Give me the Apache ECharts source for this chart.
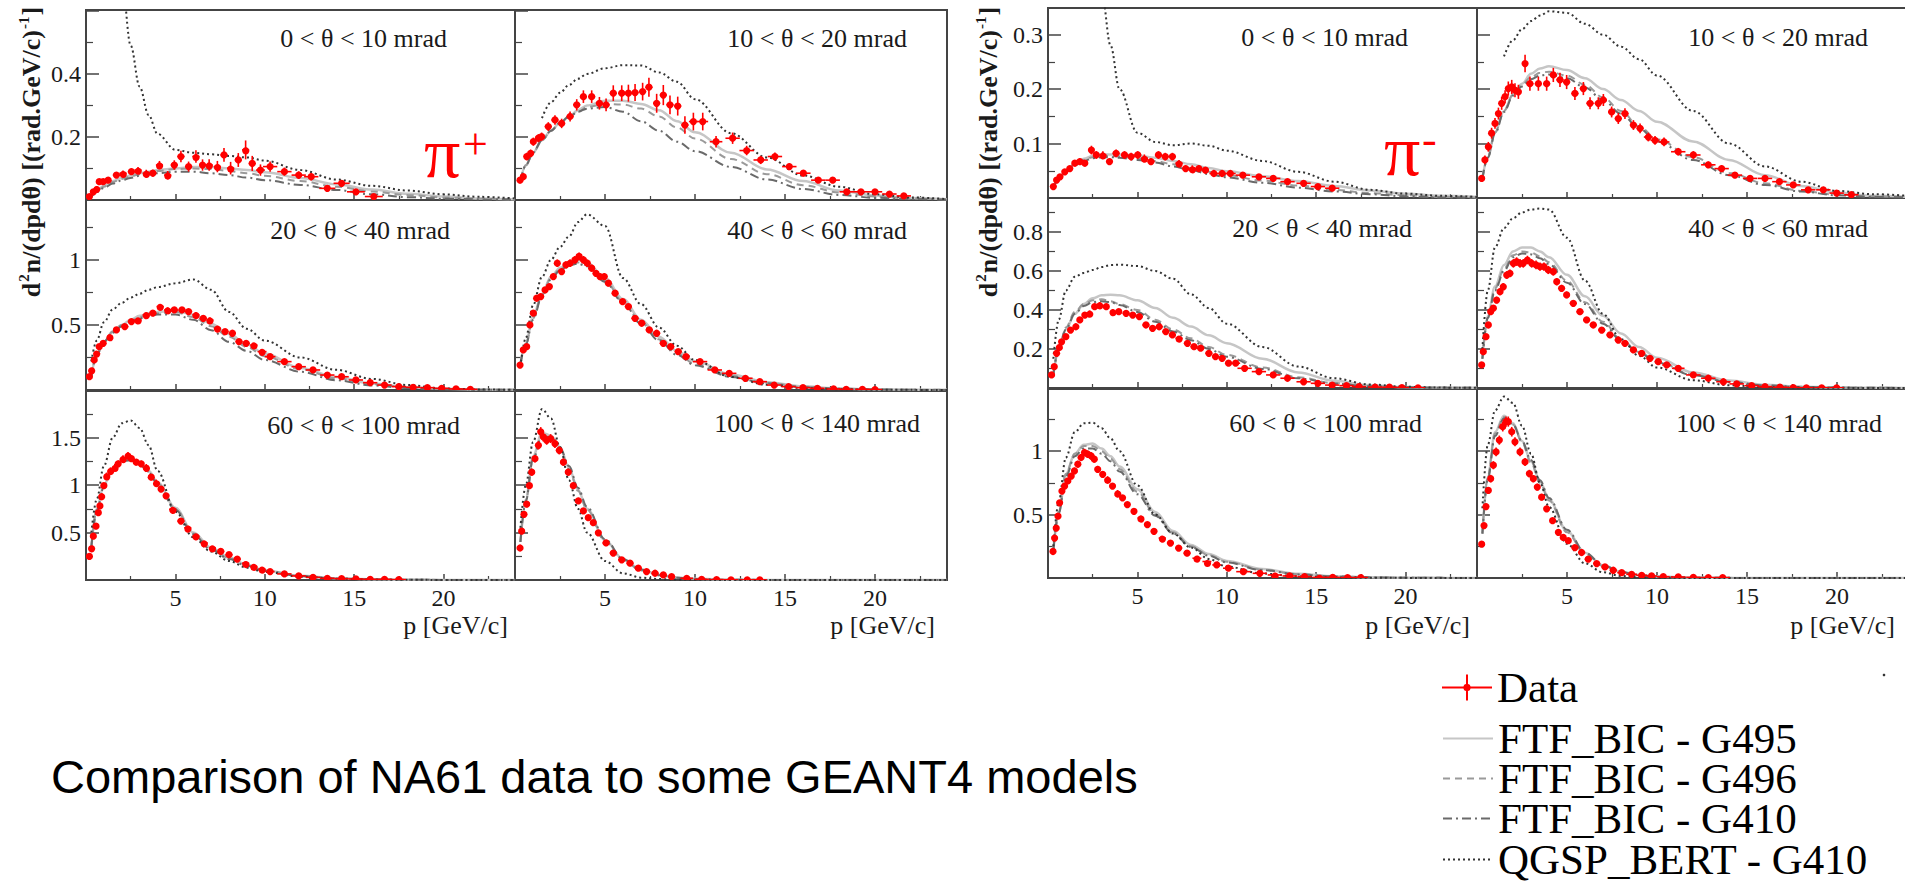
<!DOCTYPE html>
<html><head><meta charset="utf-8">
<script src="https://cdn.jsdelivr.net/npm/echarts@6/dist/echarts.min.js"></script>
<style>html,body{margin:0;padding:0;background:#fff;}#c{width:1905px;height:883px;}</style>
</head><body><div id="c"></div>
<script>
// ---------- DATA ----------
// momentum grid (GeV/c) used by the model curves
const modelP = [0.3,0.6,1,1.5,2,2.5,3,3.5,4,5,6,7,8,9,10,12,14,16,18,20,22,24];

const panelTitles = ['0 < θ < 10 mrad','10 < θ < 20 mrad','20 < θ < 40 mrad','40 < θ < 60 mrad','60 < θ < 100 mrad','100 < θ < 140 mrad',
                     '0 < θ < 10 mrad','10 < θ < 20 mrad','20 < θ < 40 mrad','40 < θ < 60 mrad','60 < θ < 100 mrad','100 < θ < 140 mrad'];
const modelNames = ['FTF_BIC - G495','FTF_BIC - G496','FTF_BIC - G410','QGSP_BERT - G410'];

// NA61 data points: [p, value, p half-width, value error]
// pi+
const dataPp1 = [[0.19,0.011,0.1,0.006],[0.41,0.026,0.1,0.007],[0.59,0.037,0.1,0.007],[0.74,0.058,0.1,0.008],[0.96,0.058,0.1,0.008],[1.24,0.063,0.15,0.008],[1.7,0.079,0.2,0.009],[2.07,0.085,0.2,0.009],[2.54,0.09,0.2,0.01],[2.91,0.095,0.2,0.01],[3.37,0.085,0.2,0.011],[3.74,0.085,0.2,0.011],[4.11,0.111,0.2,0.013],[4.57,0.079,0.2,0.013],[4.94,0.111,0.2,0.015],[5.31,0.138,0.2,0.018],[5.74,0.106,0.2,0.016],[6.15,0.138,0.2,0.02],[6.52,0.111,0.2,0.018],[6.89,0.111,0.2,0.018],[7.35,0.106,0.2,0.018],[7.72,0.143,0.2,0.022],[8.09,0.101,0.2,0.02],[8.52,0.127,0.2,0.022],[8.93,0.159,0.2,0.03],[9.3,0.116,0.2,0.024],[9.76,0.095,0.25,0.018],[10.3,0.106,0.4,0.016],[11.1,0.09,0.4,0.013],[11.9,0.079,0.4,0.012],[12.6,0.074,0.4,0.012],[13.5,0.037,0.45,0.01],[14.3,0.053,0.45,0.01],[15.1,0.026,0.5,0.008],[16.1,0.011,0.5,0.006]];
const dataPp2 = [[0.28,0.063,0.1,0.01],[0.46,0.074,0.1,0.01],[0.65,0.138,0.1,0.012],[0.87,0.148,0.1,0.012],[1.02,0.185,0.1,0.013],[1.3,0.196,0.12,0.013],[1.48,0.201,0.12,0.013],[1.85,0.233,0.2,0.014],[2.22,0.254,0.2,0.015],[2.59,0.243,0.2,0.015],[3.06,0.265,0.2,0.016],[3.43,0.302,0.2,0.018],[3.8,0.328,0.2,0.02],[4.26,0.328,0.2,0.02],[4.69,0.307,0.2,0.02],[5.06,0.302,0.2,0.02],[5.46,0.339,0.2,0.025],[5.93,0.339,0.2,0.025],[6.3,0.339,0.2,0.027],[6.67,0.341,0.2,0.027],[7.09,0.344,0.2,0.028],[7.44,0.358,0.2,0.03],[7.87,0.307,0.2,0.03],[8.24,0.333,0.2,0.032],[8.61,0.302,0.2,0.03],[9.04,0.298,0.2,0.03],[9.44,0.238,0.2,0.028],[9.91,0.249,0.25,0.028],[10.43,0.249,0.3,0.028],[11.17,0.185,0.35,0.018],[12.09,0.196,0.4,0.018],[12.87,0.157,0.4,0.015],[13.65,0.127,0.4,0.013],[14.44,0.138,0.4,0.013],[15.24,0.106,0.4,0.011],[16.02,0.085,0.4,0.01],[16.85,0.063,0.4,0.009],[17.65,0.063,0.4,0.009],[18.43,0.026,0.4,0.007],[19.22,0.026,0.4,0.007],[20.0,0.026,0.4,0.007],[20.8,0.019,0.4,0.006],[21.6,0.013,0.4,0.005]];
const dataPp3 = [[0.19,0.102,0.1,0.01],[0.31,0.154,0.06,0.012],[0.46,0.231,0.07,0.012],[0.59,0.282,0.07,0.012],[0.74,0.333,0.08,0.013],[0.96,0.359,0.1,0.013],[1.33,0.41,0.15,0.014],[1.7,0.462,0.18,0.015],[2.17,0.487,0.2,0.015],[2.54,0.526,0.2,0.016],[2.91,0.538,0.2,0.016],[3.37,0.577,0.2,0.017],[3.74,0.59,0.2,0.017],[4.15,0.641,0.2,0.02],[4.57,0.615,0.2,0.02],[4.94,0.615,0.2,0.02],[5.37,0.615,0.2,0.02],[5.74,0.603,0.2,0.02],[6.15,0.577,0.2,0.02],[6.56,0.551,0.2,0.02],[6.93,0.538,0.2,0.02],[7.35,0.474,0.2,0.018],[7.78,0.449,0.2,0.018],[8.19,0.436,0.2,0.018],[8.56,0.372,0.2,0.016],[8.96,0.359,0.2,0.016],[9.39,0.346,0.2,0.016],[9.85,0.295,0.25,0.015],[10.3,0.256,0.3,0.014],[11.1,0.218,0.4,0.012],[11.9,0.179,0.4,0.011],[12.7,0.154,0.4,0.01],[13.5,0.115,0.4,0.009],[14.3,0.102,0.4,0.008],[15.1,0.077,0.4,0.007],[15.9,0.056,0.4,0.006],[16.7,0.038,0.4,0.005],[17.5,0.026,0.4,0.004],[18.3,0.021,0.4,0.004],[19.1,0.018,0.4,0.004],[19.9,0.013,0.4,0.003],[20.7,0.008,0.4,0.003],[21.5,0.005,0.4,0.003]];
const dataPp4 = [[0.28,0.192,0.08,0.015],[0.46,0.308,0.08,0.016],[0.65,0.333,0.08,0.016],[0.83,0.5,0.08,0.02],[1.02,0.59,0.09,0.02],[1.2,0.705,0.1,0.022],[1.43,0.718,0.1,0.022],[1.67,0.769,0.1,0.022],[1.91,0.795,0.1,0.024],[2.13,0.872,0.1,0.025],[2.35,0.974,0.1,0.028],[2.59,0.91,0.1,0.026],[2.83,0.962,0.1,0.028],[3.06,0.974,0.1,0.028],[3.33,1.0,0.12,0.03],[3.56,1.026,0.12,0.03],[3.8,1.0,0.12,0.03],[4.02,0.974,0.12,0.028],[4.26,0.936,0.12,0.028],[4.5,0.897,0.12,0.026],[4.72,0.872,0.12,0.026],[4.96,0.872,0.12,0.026],[5.19,0.821,0.15,0.025],[5.56,0.744,0.18,0.024],[5.98,0.679,0.2,0.022],[6.3,0.641,0.2,0.02],[6.67,0.551,0.2,0.02],[7.04,0.513,0.2,0.018],[7.46,0.462,0.2,0.018],[7.87,0.436,0.2,0.017],[8.24,0.359,0.2,0.015],[8.65,0.333,0.2,0.015],[9.07,0.295,0.2,0.014],[9.5,0.256,0.2,0.013],[10.28,0.218,0.4,0.012],[11.1,0.154,0.4,0.01],[11.9,0.128,0.4,0.009],[12.8,0.09,0.4,0.008],[13.6,0.064,0.4,0.007],[14.4,0.038,0.4,0.006],[15.2,0.026,0.4,0.005],[16.0,0.018,0.4,0.004],[16.8,0.013,0.4,0.004],[17.7,0.008,0.4,0.003],[18.4,0.005,0.4,0.003],[19.3,0.005,0.4,0.003],[20.0,0.003,0.4,0.003]];
const dataPp5 = [[0.19,0.248,0.05,0.02],[0.31,0.337,0.05,0.02],[0.41,0.461,0.05,0.022],[0.56,0.567,0.06,0.024],[0.69,0.709,0.06,0.025],[0.78,0.78,0.06,0.026],[0.87,0.886,0.06,0.028],[1.0,0.993,0.07,0.03],[1.15,1.099,0.08,0.032],[1.37,1.152,0.1,0.034],[1.61,1.188,0.1,0.034],[1.8,1.223,0.1,0.035],[2.07,1.277,0.12,0.036],[2.35,1.312,0.12,0.036],[2.54,1.277,0.12,0.035],[2.81,1.241,0.12,0.034],[3.09,1.223,0.12,0.034],[3.37,1.188,0.12,0.033],[3.65,1.082,0.12,0.032],[3.93,1.028,0.12,0.03],[4.2,0.957,0.12,0.028],[4.48,0.886,0.15,0.026],[4.85,0.745,0.2,0.024],[5.31,0.62,0.2,0.022],[5.69,0.55,0.2,0.02],[6.15,0.461,0.2,0.018],[6.61,0.39,0.2,0.016],[7.07,0.337,0.2,0.015],[7.54,0.301,0.2,0.014],[8.0,0.266,0.2,0.013],[8.46,0.22,0.2,0.012],[8.93,0.177,0.2,0.011],[9.39,0.142,0.2,0.01],[9.85,0.113,0.2,0.009],[10.3,0.089,0.25,0.008],[11.1,0.064,0.4,0.007],[11.9,0.043,0.4,0.006],[12.7,0.028,0.4,0.005],[13.5,0.018,0.4,0.004],[14.3,0.014,0.4,0.004],[15.1,0.011,0.4,0.003],[15.9,0.007,0.4,0.003],[16.7,0.007,0.4,0.003],[17.5,0.004,0.4,0.003]];
const dataPp6 = [[0.28,0.337,0.05,0.03],[0.37,0.514,0.05,0.03],[0.5,0.691,0.05,0.03],[0.65,0.798,0.06,0.032],[0.8,0.993,0.06,0.035],[0.93,1.135,0.06,0.038],[1.11,1.277,0.07,0.04],[1.3,1.418,0.08,0.045],[1.43,1.56,0.08,0.05],[1.57,1.507,0.08,0.048],[1.76,1.471,0.1,0.047],[1.98,1.489,0.1,0.047],[2.22,1.436,0.1,0.045],[2.46,1.365,0.1,0.043],[2.69,1.241,0.12,0.04],[2.96,1.135,0.12,0.038],[3.24,0.993,0.12,0.035],[3.52,0.833,0.12,0.032],[3.8,0.727,0.12,0.03],[4.07,0.656,0.12,0.028],[4.35,0.603,0.12,0.026],[4.63,0.497,0.15,0.024],[5.06,0.39,0.2,0.022],[5.46,0.284,0.2,0.018],[5.93,0.213,0.2,0.015],[6.39,0.177,0.2,0.013],[6.85,0.124,0.2,0.011],[7.31,0.089,0.2,0.009],[7.78,0.071,0.2,0.008],[8.24,0.053,0.2,0.007],[8.7,0.035,0.2,0.006],[9.54,0.018,0.35,0.005],[10.37,0.007,0.4,0.004],[11.2,0.004,0.4,0.003],[12.0,0.002,0.4,0.003],[12.9,0.001,0.4,0.003],[13.6,0.001,0.4,0.003]];
// pi-
const dataPm1 = [[0.3,0.021,0.1,0.004],[0.48,0.033,0.1,0.005],[0.67,0.039,0.1,0.005],[0.94,0.048,0.12,0.005],[1.22,0.054,0.12,0.005],[1.5,0.064,0.15,0.006],[1.78,0.067,0.15,0.006],[2.06,0.064,0.15,0.006],[2.43,0.088,0.15,0.008],[2.7,0.079,0.15,0.007],[3.07,0.079,0.2,0.007],[3.44,0.067,0.2,0.006],[3.81,0.082,0.2,0.007],[4.28,0.079,0.2,0.007],[4.65,0.076,0.2,0.007],[5.02,0.079,0.2,0.007],[5.39,0.073,0.2,0.007],[5.76,0.067,0.2,0.006],[6.18,0.079,0.2,0.007],[6.56,0.076,0.2,0.007],[6.96,0.076,0.2,0.007],[7.33,0.064,0.2,0.006],[7.7,0.054,0.2,0.006],[8.07,0.054,0.2,0.006],[8.44,0.054,0.2,0.006],[8.81,0.051,0.2,0.006],[9.28,0.045,0.25,0.005],[9.74,0.045,0.25,0.005],[10.2,0.045,0.3,0.005],[10.9,0.042,0.4,0.005],[11.8,0.039,0.4,0.005],[12.6,0.036,0.4,0.004],[13.4,0.03,0.4,0.004],[14.3,0.027,0.4,0.004],[15.1,0.021,0.4,0.004],[15.9,0.018,0.4,0.003]];
const dataPm2 = [[0.26,0.036,0.08,0.006],[0.44,0.07,0.08,0.008],[0.63,0.094,0.08,0.009],[0.81,0.119,0.08,0.01],[1.0,0.137,0.09,0.01],[1.19,0.155,0.09,0.011],[1.37,0.174,0.09,0.012],[1.56,0.186,0.1,0.012],[1.74,0.201,0.1,0.013],[1.93,0.204,0.1,0.013],[2.11,0.198,0.1,0.013],[2.3,0.195,0.1,0.013],[2.67,0.247,0.1,0.016],[2.94,0.21,0.2,0.013],[3.41,0.21,0.2,0.013],[3.87,0.21,0.2,0.013],[4.24,0.226,0.2,0.013],[4.61,0.217,0.2,0.013],[4.98,0.213,0.2,0.013],[5.44,0.192,0.2,0.012],[5.91,0.201,0.2,0.012],[6.28,0.174,0.2,0.011],[6.74,0.174,0.2,0.011],[7.02,0.18,0.2,0.011],[7.48,0.158,0.2,0.01],[7.85,0.146,0.2,0.01],[8.22,0.155,0.2,0.01],[8.69,0.134,0.2,0.009],[9.06,0.128,0.2,0.009],[9.52,0.112,0.25,0.008],[9.89,0.106,0.25,0.008],[10.39,0.103,0.3,0.008],[11.18,0.085,0.4,0.007],[12.02,0.079,0.4,0.007],[12.85,0.061,0.4,0.006],[13.59,0.054,0.4,0.006],[14.33,0.042,0.4,0.005],[15.17,0.036,0.4,0.005],[16.0,0.036,0.4,0.005],[16.8,0.03,0.4,0.004],[17.57,0.024,0.4,0.004],[18.4,0.015,0.4,0.003],[19.24,0.015,0.4,0.003],[19.98,0.009,0.4,0.003],[20.8,0.006,0.4,0.003]];
const dataPm3 = [[0.2,0.067,0.06,0.008],[0.35,0.109,0.06,0.009],[0.48,0.178,0.06,0.01],[0.63,0.212,0.06,0.011],[0.76,0.237,0.06,0.011],[1.0,0.263,0.08,0.012],[1.26,0.297,0.1,0.012],[1.56,0.314,0.12,0.013],[1.78,0.349,0.12,0.013],[2.06,0.374,0.12,0.014],[2.33,0.383,0.12,0.014],[2.61,0.417,0.12,0.015],[2.89,0.426,0.12,0.015],[3.26,0.417,0.15,0.015],[3.63,0.391,0.15,0.014],[3.96,0.391,0.15,0.014],[4.37,0.383,0.2,0.014],[4.74,0.374,0.2,0.014],[5.11,0.366,0.2,0.013],[5.48,0.323,0.2,0.013],[5.85,0.306,0.2,0.012],[6.22,0.314,0.2,0.012],[6.59,0.289,0.2,0.012],[6.96,0.272,0.2,0.011],[7.33,0.255,0.2,0.011],[7.8,0.229,0.2,0.01],[8.17,0.212,0.2,0.01],[8.54,0.204,0.2,0.01],[9.0,0.178,0.2,0.009],[9.37,0.161,0.2,0.009],[9.74,0.152,0.2,0.009],[10.1,0.127,0.2,0.008],[10.5,0.127,0.25,0.008],[11.0,0.101,0.4,0.007],[11.8,0.084,0.4,0.006],[12.6,0.067,0.4,0.006],[13.4,0.05,0.4,0.005],[14.3,0.032,0.4,0.004],[15.1,0.024,0.4,0.004],[15.9,0.015,0.4,0.003],[16.7,0.012,0.4,0.003],[17.4,0.007,0.4,0.003],[18.3,0.005,0.4,0.002],[19.1,0.004,0.4,0.002],[19.8,0.002,0.4,0.002],[20.7,0.001,0.4,0.002]];
const dataPm4 = [[0.26,0.118,0.06,0.012],[0.35,0.186,0.05,0.013],[0.5,0.263,0.06,0.014],[0.63,0.323,0.06,0.015],[0.76,0.391,0.06,0.016],[0.91,0.409,0.07,0.016],[1.09,0.451,0.08,0.017],[1.28,0.494,0.08,0.018],[1.46,0.519,0.08,0.018],[1.65,0.579,0.08,0.02],[1.83,0.588,0.08,0.02],[2.02,0.639,0.08,0.022],[2.2,0.648,0.08,0.022],[2.39,0.639,0.08,0.022],[2.57,0.639,0.08,0.022],[2.8,0.656,0.1,0.022],[3.04,0.639,0.1,0.022],[3.28,0.631,0.1,0.022],[3.5,0.622,0.1,0.021],[3.72,0.622,0.1,0.021],[3.96,0.605,0.1,0.021],[4.24,0.596,0.12,0.02],[4.43,0.545,0.12,0.019],[4.7,0.511,0.12,0.018],[4.98,0.477,0.15,0.017],[5.35,0.434,0.2,0.016],[5.72,0.391,0.2,0.015],[6.09,0.349,0.2,0.014],[6.46,0.323,0.2,0.013],[6.93,0.297,0.2,0.012],[7.39,0.272,0.2,0.012],[7.85,0.246,0.2,0.011],[8.22,0.229,0.2,0.011],[8.69,0.195,0.2,0.01],[9.15,0.178,0.2,0.009],[9.61,0.152,0.2,0.009],[10.07,0.135,0.2,0.008],[10.54,0.118,0.25,0.008],[11.18,0.101,0.35,0.007],[12.02,0.067,0.4,0.006],[12.85,0.05,0.4,0.005],[13.69,0.032,0.4,0.004],[14.43,0.021,0.4,0.004],[15.26,0.012,0.4,0.003],[16.0,0.007,0.4,0.003],[16.83,0.004,0.4,0.003],[17.57,0.002,0.4,0.002],[18.3,0.001,0.4,0.002],[19.15,0.001,0.4,0.002],[19.98,0.001,0.4,0.002]];
const dataPm5 = [[0.28,0.209,0.05,0.015],[0.37,0.315,0.05,0.016],[0.46,0.394,0.05,0.017],[0.56,0.487,0.05,0.018],[0.65,0.593,0.05,0.02],[0.78,0.685,0.06,0.022],[0.93,0.725,0.07,0.023],[1.11,0.765,0.08,0.024],[1.3,0.804,0.08,0.025],[1.48,0.844,0.08,0.026],[1.67,0.897,0.08,0.027],[1.85,0.95,0.08,0.028],[2.04,0.989,0.09,0.03],[2.22,0.976,0.09,0.03],[2.41,0.963,0.09,0.03],[2.59,0.937,0.09,0.028],[2.78,0.857,0.1,0.027],[3.06,0.817,0.12,0.026],[3.33,0.778,0.12,0.025],[3.61,0.725,0.12,0.024],[3.89,0.672,0.12,0.022],[4.17,0.632,0.12,0.021],[4.44,0.579,0.12,0.02],[4.81,0.526,0.15,0.019],[5.19,0.474,0.18,0.018],[5.56,0.421,0.18,0.017],[5.93,0.368,0.18,0.016],[6.39,0.315,0.2,0.015],[6.85,0.275,0.2,0.014],[7.31,0.236,0.2,0.013],[7.78,0.196,0.2,0.012],[8.33,0.156,0.25,0.011],[8.89,0.13,0.25,0.01],[9.44,0.103,0.25,0.009],[10.09,0.077,0.3,0.008],[10.93,0.05,0.4,0.007],[11.85,0.037,0.4,0.006],[12.69,0.024,0.4,0.005],[13.52,0.016,0.4,0.004],[14.35,0.011,0.4,0.004],[15.19,0.005,0.4,0.003],[15.93,0.005,0.4,0.003],[16.76,0.003,0.4,0.003],[17.5,0.003,0.4,0.003]];
const dataPm6 = [[0.26,0.267,0.05,0.02],[0.39,0.413,0.05,0.022],[0.5,0.563,0.05,0.025],[0.63,0.69,0.05,0.027],[0.76,0.783,0.06,0.03],[0.91,0.889,0.06,0.032],[1.06,0.994,0.07,0.034],[1.24,1.087,0.08,0.036],[1.43,1.193,0.08,0.038],[1.61,1.233,0.08,0.04],[1.74,1.233,0.08,0.04],[1.93,1.153,0.08,0.038],[2.11,1.074,0.1,0.036],[2.39,0.994,0.1,0.034],[2.67,0.915,0.1,0.032],[2.91,0.823,0.1,0.03],[3.13,0.783,0.1,0.029],[3.35,0.717,0.12,0.027],[3.59,0.637,0.12,0.026],[3.87,0.545,0.12,0.024],[4.2,0.452,0.15,0.022],[4.52,0.36,0.15,0.02],[4.79,0.32,0.15,0.018],[5.07,0.294,0.15,0.017],[5.44,0.24,0.2,0.015],[5.81,0.201,0.2,0.013],[6.18,0.148,0.2,0.011],[6.65,0.114,0.2,0.01],[7.11,0.087,0.2,0.009],[7.57,0.061,0.2,0.008],[8.04,0.042,0.25,0.007],[8.59,0.029,0.3,0.006],[9.15,0.021,0.3,0.005],[9.7,0.016,0.3,0.004],[10.35,0.01,0.35,0.004],[11.18,0.008,0.4,0.003],[12.02,0.005,0.4,0.003],[12.85,0.003,0.4,0.003],[13.65,0.003,0.4,0.003]];

// Model curves on modelP grid
const g495Pp1 = [0.01,0.03,0.045,0.06,0.07,0.078,0.085,0.09,0.095,0.1,0.105,0.105,0.1,0.095,0.088,0.07,0.05,0.033,0.02,0.011,0.005,0.002];
const g496Pp1 = [0.01,0.028,0.042,0.057,0.067,0.075,0.082,0.087,0.092,0.098,0.1,0.098,0.092,0.085,0.077,0.06,0.042,0.027,0.016,0.008,0.004,0.002];
const g410Pp1 = [0.01,0.025,0.038,0.052,0.062,0.07,0.077,0.082,0.085,0.09,0.09,0.085,0.079,0.071,0.063,0.048,0.032,0.018,0.009,0.004,0.002,0.001];
const qgspPp1 = [2.4,1.9,1.4,1.0,0.7,0.49,0.36,0.27,0.21,0.159,0.15,0.145,0.14,0.135,0.125,0.095,0.065,0.045,0.03,0.018,0.01,0.005];

const g495Pp2 = [0.06,0.11,0.15,0.19,0.22,0.245,0.265,0.285,0.3,0.315,0.315,0.305,0.285,0.25,0.215,0.15,0.097,0.06,0.03,0.014,0.006,0.002];
const g496Pp2 = [0.06,0.11,0.15,0.19,0.22,0.245,0.262,0.28,0.295,0.305,0.303,0.29,0.265,0.23,0.195,0.13,0.082,0.047,0.024,0.011,0.005,0.002];
const g410Pp2 = [0.06,0.11,0.15,0.19,0.22,0.245,0.265,0.28,0.29,0.295,0.28,0.25,0.22,0.185,0.155,0.105,0.065,0.035,0.016,0.007,0.003,0.001];
const qgspPp2 = [null,null,null,0.26,0.31,0.34,0.365,0.385,0.4,0.418,0.428,0.427,0.405,0.375,0.32,0.212,0.135,0.078,0.042,0.018,0.008,0.003];

const g495Pp3 = [0.1,0.27,0.37,0.45,0.5,0.54,0.57,0.59,0.6,0.61,0.58,0.51,0.43,0.35,0.28,0.17,0.1,0.05,0.022,0.009,0.003,0.001];
const g496Pp3 = [0.1,0.27,0.37,0.45,0.5,0.53,0.56,0.58,0.59,0.6,0.56,0.49,0.41,0.33,0.26,0.16,0.09,0.045,0.02,0.008,0.003,0.001];
const g410Pp3 = [0.1,0.27,0.37,0.44,0.49,0.52,0.55,0.57,0.58,0.58,0.54,0.46,0.37,0.3,0.23,0.14,0.075,0.035,0.015,0.006,0.002,0.001];
const qgspPp3 = [0.22,0.38,0.52,0.62,0.67,0.71,0.74,0.77,0.79,0.82,0.85,0.77,0.6,0.47,0.38,0.25,0.155,0.085,0.038,0.012,0.004,0.001];

const g495Pp4 = [0.2,0.36,0.56,0.74,0.87,0.94,0.98,1.0,0.98,0.86,0.7,0.54,0.41,0.3,0.22,0.12,0.06,0.028,0.012,0.005,0.002,0.001];
const g496Pp4 = [0.2,0.35,0.55,0.73,0.86,0.93,0.97,0.98,0.96,0.84,0.68,0.52,0.39,0.28,0.2,0.11,0.055,0.025,0.01,0.004,0.002,0.001];
const g410Pp4 = [0.2,0.35,0.54,0.72,0.85,0.92,0.96,0.97,0.95,0.83,0.67,0.51,0.38,0.27,0.19,0.1,0.05,0.022,0.009,0.004,0.001,0];
const qgspPp4 = [0.18,0.4,0.65,0.87,1.0,1.1,1.18,1.29,1.35,1.26,0.86,0.66,0.48,0.34,0.23,0.1,0.04,0.015,0.006,0.002,0.001,0];

const g495Pp5 = [0.35,0.75,1.0,1.18,1.27,1.28,1.24,1.15,1.03,0.76,0.5,0.34,0.24,0.16,0.1,0.045,0.018,0.008,0.003,0.001,0,0];
const g496Pp5 = [0.35,0.74,0.99,1.17,1.26,1.27,1.23,1.14,1.02,0.75,0.49,0.33,0.23,0.15,0.1,0.043,0.017,0.007,0.003,0.001,0,0];
const g410Pp5 = [0.35,0.73,0.98,1.16,1.25,1.26,1.22,1.13,1.01,0.74,0.48,0.32,0.22,0.15,0.095,0.04,0.016,0.006,0.002,0.001,0,0];
const qgspPp5 = [0.5,0.85,1.2,1.5,1.65,1.68,1.6,1.42,1.15,0.72,0.45,0.3,0.2,0.13,0.085,0.035,0.014,0.005,0.002,0.001,0,0];

const g495Pp6 = [0.4,0.85,1.3,1.55,1.52,1.4,1.18,0.95,0.75,0.42,0.22,0.11,0.055,0.026,0.012,0.003,0.001,0,0,0,0,0];
const g496Pp6 = [0.4,0.84,1.28,1.53,1.5,1.38,1.17,0.94,0.74,0.41,0.21,0.1,0.05,0.024,0.011,0.003,0.001,0,0,0,0,0];
const g410Pp6 = [0.4,0.83,1.27,1.52,1.5,1.39,1.2,0.97,0.77,0.43,0.22,0.11,0.05,0.023,0.01,0.002,0.001,0,0,0,0,0];
const qgspPp6 = [0.55,1.0,1.45,1.8,1.7,1.4,1.05,0.75,0.5,0.2,0.07,0.025,0.01,0.004,0.002,0,0,0,0,0,0,0];

const g495Pm1 = [0.02,0.035,0.05,0.063,0.072,0.077,0.08,0.08,0.08,0.078,0.074,0.068,0.062,0.055,0.049,0.04,0.031,0.022,0.014,0.008,0.004,0.002];
const g496Pm1 = [0.02,0.035,0.05,0.062,0.07,0.075,0.077,0.077,0.076,0.073,0.068,0.062,0.055,0.048,0.042,0.032,0.023,0.015,0.009,0.005,0.002,0.001];
const g410Pm1 = [0.02,0.034,0.048,0.06,0.068,0.073,0.075,0.075,0.074,0.07,0.065,0.058,0.051,0.044,0.038,0.028,0.019,0.012,0.007,0.003,0.001,0.001];
const qgspPm1 = [3,2.4,1.8,1.3,0.9,0.6,0.38,0.28,0.2,0.12,0.103,0.097,0.1,0.096,0.087,0.068,0.048,0.03,0.015,0.008,0.004,0.002];

const g495Pm2 = [0.036,0.075,0.12,0.16,0.19,0.21,0.228,0.238,0.242,0.235,0.22,0.2,0.18,0.16,0.14,0.104,0.07,0.042,0.022,0.01,0.004,0.002];
const g496Pm2 = [0.036,0.075,0.12,0.16,0.19,0.208,0.222,0.23,0.232,0.225,0.208,0.185,0.16,0.132,0.108,0.075,0.046,0.027,0.013,0.006,0.003,0.001];
const g410Pm2 = [0.036,0.074,0.118,0.158,0.188,0.205,0.218,0.225,0.227,0.22,0.203,0.18,0.155,0.128,0.104,0.07,0.042,0.024,0.012,0.005,0.002,0.001];
const qgspPm2 = [null,null,null,0.26,0.29,0.31,0.325,0.335,0.343,0.34,0.32,0.3,0.278,0.255,0.225,0.16,0.1,0.058,0.03,0.013,0.007,0.004];

const g495Pm3 = [0.07,0.2,0.3,0.38,0.43,0.46,0.475,0.478,0.475,0.45,0.41,0.36,0.315,0.27,0.23,0.15,0.08,0.037,0.014,0.005,0.002,0.001];
const g496Pm3 = [0.07,0.2,0.31,0.39,0.43,0.45,0.455,0.445,0.43,0.4,0.35,0.3,0.255,0.21,0.17,0.105,0.055,0.025,0.01,0.004,0.002,0.001];
const g410Pm3 = [0.07,0.2,0.3,0.38,0.42,0.44,0.445,0.44,0.425,0.39,0.34,0.29,0.245,0.2,0.16,0.098,0.05,0.022,0.009,0.004,0.001,0.001];
const qgspPm3 = [0.15,0.35,0.5,0.57,0.59,0.605,0.62,0.63,0.632,0.625,0.6,0.56,0.48,0.41,0.33,0.21,0.11,0.05,0.018,0.006,0.002,0.001];

const g495Pm4 = [0.15,0.37,0.52,0.63,0.7,0.72,0.72,0.7,0.67,0.58,0.47,0.37,0.28,0.21,0.155,0.08,0.038,0.017,0.007,0.003,0.001,0];
const g496Pm4 = [0.15,0.36,0.51,0.61,0.68,0.7,0.695,0.675,0.645,0.55,0.44,0.34,0.25,0.185,0.135,0.068,0.032,0.014,0.006,0.002,0.001,0];
const g410Pm4 = [0.15,0.36,0.5,0.6,0.67,0.69,0.685,0.665,0.635,0.54,0.43,0.33,0.245,0.18,0.13,0.065,0.03,0.013,0.005,0.002,0.001,0];
const qgspPm4 = [0.2,0.5,0.72,0.82,0.87,0.9,0.915,0.92,0.915,0.77,0.55,0.38,0.25,0.165,0.105,0.04,0.014,0.005,0.002,0.001,0,0];

const g495Pm5 = [0.22,0.52,0.82,0.98,1.05,1.06,1.02,0.96,0.88,0.7,0.52,0.37,0.26,0.19,0.135,0.07,0.033,0.014,0.006,0.002,0.001,0];
const g496Pm5 = [0.22,0.52,0.82,0.98,1.04,1.04,1.0,0.94,0.86,0.68,0.5,0.36,0.25,0.18,0.128,0.065,0.03,0.013,0.005,0.002,0.001,0];
const g410Pm5 = [0.22,0.51,0.8,0.96,1.02,1.02,0.98,0.92,0.84,0.66,0.49,0.35,0.245,0.175,0.122,0.062,0.028,0.012,0.005,0.002,0.001,0];
const qgspPm5 = [0.25,0.6,0.95,1.15,1.22,1.225,1.18,1.1,1.0,0.73,0.5,0.35,0.24,0.15,0.09,0.035,0.013,0.005,0.002,0.001,0,0];

const g495Pm6 = [0.35,0.8,1.15,1.28,1.22,1.08,0.92,0.76,0.62,0.37,0.2,0.1,0.05,0.024,0.011,0.003,0.001,0,0,0,0,0];
const g496Pm6 = [0.35,0.8,1.14,1.27,1.21,1.07,0.91,0.75,0.61,0.36,0.19,0.095,0.047,0.022,0.01,0.003,0.001,0,0,0,0,0];
const g410Pm6 = [0.35,0.78,1.12,1.26,1.21,1.08,0.93,0.77,0.63,0.38,0.2,0.1,0.048,0.022,0.01,0.002,0.001,0,0,0,0,0];
const qgspPm6 = [0.55,1.05,1.32,1.43,1.38,1.2,0.98,0.75,0.56,0.27,0.115,0.045,0.016,0.006,0.002,0,0,0,0,0,0,0];

// ---------- assembly ----------
const panelData = [dataPp1,dataPp2,dataPp3,dataPp4,dataPp5,dataPp6,dataPm1,dataPm2,dataPm3,dataPm4,dataPm5,dataPm6];
const panelModels = [
  [g495Pp1,g496Pp1,g410Pp1,qgspPp1],[g495Pp2,g496Pp2,g410Pp2,qgspPp2],[g495Pp3,g496Pp3,g410Pp3,qgspPp3],
  [g495Pp4,g496Pp4,g410Pp4,qgspPp4],[g495Pp5,g496Pp5,g410Pp5,qgspPp5],[g495Pp6,g496Pp6,g410Pp6,qgspPp6],
  [g495Pm1,g496Pm1,g410Pm1,qgspPm1],[g495Pm2,g496Pm2,g410Pm2,qgspPm2],[g495Pm3,g496Pm3,g410Pm3,qgspPm3],
  [g495Pm4,g496Pm4,g410Pm4,qgspPm4],[g495Pm5,g496Pm5,g410Pm5,qgspPm5],[g495Pm6,g496Pm6,g410Pm6,qgspPm6]
];

// layout
const colLeft = [[86,515],[1048,1477]];
const colWidth = [429,432];
const rowTop = [[10,200,391],[8,198,389]];
const rowHeight = [190,190,189];
const yMax = [[0.603,1.46,1.99],[0.349,0.974,1.49]];
const yStep = [[0.2,0.5,0.5],[0.1,0.2,0.5]];
const titlePos = [[447,38],[907,38],[450,230],[907,230],[460,425],[920,423],
                  [1408,37],[1868,37],[1412,228],[1868,228],[1422,423],[1882,423]];

const SERIF = '"Liberation Serif","Times New Roman",serif';
const FRAME = '#444';
const TXT = '#1a1a1a';
const modelStyles = [
  {color:'#c6c6c6', width:2.5, type:'solid'},
  {color:'#9a9a9a', width:2, type:[7,5]},
  {color:'#6a6a6a', width:2, type:[9,4,2,4]},
  {color:'#333333', width:2, type:[2,3]}
];

// hide the 0 label and any label that sits at the very top edge of a pad
function makeYFormatter(maxv, step){
  return function(v){
    if (v <= 1e-9 || v > maxv - 0.05*step) return '';
    return String(Math.round(v*100)/100);
  };
}

const grids=[], xAxes=[], yAxes=[], series=[], graphics=[];
for (let g=0; g<2; g++) for (let r=0; r<3; r++) for (let c=0; c<2; c++) {
  const i = g*6 + r*2 + c;
  grids.push({left:colLeft[g][c], top:rowTop[g][r], width:colWidth[c], height:rowHeight[r],
    show:true, borderColor:FRAME, borderWidth:2, containLabel:false, outerBoundsMode:'none'});
  xAxes.push({gridIndex:i, type:'value', min:0, max:24, interval:5,
    axisLine:{show:true, onZero:false, lineStyle:{color:FRAME, width:2}},
    axisTick:{show:true, inside:true, length:6, lineStyle:{color:FRAME, width:1.5}},
    minorTick:{show:true, splitNumber:2, length:4, lineStyle:{color:FRAME, width:1.2}},
    splitLine:{show:false},
    axisLabel:{show:r===2, showMinLabel:false, showMaxLabel:false, fontFamily:SERIF, fontSize:24, color:TXT, margin:6,
      formatter:function(v){ return (v<=0 || v>=24) ? '' : String(v); }}});
  yAxes.push({gridIndex:i, type:'value', min:0, max:yMax[g][r], interval:yStep[g][r],
    axisLine:{show:true, onZero:false, lineStyle:{color:FRAME, width:2}},
    axisTick:{show:true, inside:true, length:13, lineStyle:{color:FRAME, width:1.5}},
    minorTick:{show:true, splitNumber:2, length:7, lineStyle:{color:FRAME, width:1.2}},
    splitLine:{show:false},
    axisLabel:{show:c===0, fontFamily:SERIF, fontSize:24, color:TXT, margin:5, formatter:makeYFormatter(yMax[g][r], yStep[g][r])}});
  panelModels[i].forEach((arr, m) => {
    series.push({type:'line', name:modelNames[m], xAxisIndex:i, yAxisIndex:i,
      data: modelP.map((p,k)=>[p, arr[k]]), symbol:'none', smooth:0.35, smoothMonotone:'x',
      connectNulls:false, clip:true, silent:true, z:2+m*0.1,
      lineStyle:{color:modelStyles[m].color, width:modelStyles[m].width, type:modelStyles[m].type},
      itemStyle:{color:modelStyles[m].color}});
  });
  series.push({type:'custom', name:'Data', xAxisIndex:i, yAxisIndex:i, data:panelData[i], z:5, clip:true, silent:true,
    itemStyle:{color:'#ff0000'},
    encode:{x:0, y:1},
    renderItem:function(params, api){
      const x=api.value(0), y=api.value(1), ex=api.value(2), ey=api.value(3);
      const c0=api.coord([x,y]), l=api.coord([x-ex,y]), rr=api.coord([x+ex,y]);
      const t=api.coord([x,y+ey]), b=api.coord([x,Math.max(0,y-ey)]);
      const st={stroke:'#ff0000', lineWidth:1.6};
      return {type:'group', children:[
        {type:'line', shape:{x1:l[0],y1:c0[1],x2:rr[0],y2:c0[1]}, style:st},
        {type:'line', shape:{x1:c0[0],y1:t[1],x2:c0[0],y2:b[1]}, style:st},
        {type:'circle', shape:{cx:c0[0],cy:c0[1],r:3.6}, style:{fill:'#ff0000'}}
      ]};
    }});
  graphics.push({type:'text', x:titlePos[i][0], y:titlePos[i][1], silent:true,
    style:{text:panelTitles[i], font:'26px '+SERIF, fill:TXT, align:'right', verticalAlign:'middle'}});
}

// axis titles
const yTitle = '{n|d}{s|2}{n|n/(dpdθ) [(rad.GeV/c)}{s|-1}{n|]}';
const yTitleRich = {n:{fontSize:26, fontFamily:SERIF, fontWeight:'bold', fill:TXT, color:TXT},
                    s:{fontSize:15, fontFamily:SERIF, fontWeight:'bold', fill:TXT, color:TXT, verticalAlign:'top', padding:[0,1,14,1]}};
[31, 988].forEach(x => graphics.push({type:'text', x:x, y:152, rotation:Math.PI/2, silent:true,
  style:{text:yTitle, rich:yTitleRich, align:'center', verticalAlign:'middle', fill:TXT}}));
[508, 935, 1470, 1895].forEach(x => graphics.push({type:'text', x:x, y:625, silent:true,
  style:{text:'p [GeV/c]', font:'26px '+SERIF, fill:TXT, align:'right', verticalAlign:'middle'}}));

// particle labels
graphics.push({type:'text', x:424, y:153, silent:true, style:{text:'π', font:'72px '+SERIF, fill:'#ff0000', align:'left', verticalAlign:'middle'}});
graphics.push({type:'text', x:463, y:144, silent:true, style:{text:'+', font:'44px '+SERIF, fill:'#ff0000', align:'left', verticalAlign:'middle'}});
graphics.push({type:'text', x:1384, y:151, silent:true, style:{text:'π', font:'72px '+SERIF, fill:'#ff0000', align:'left', verticalAlign:'middle'}});
graphics.push({type:'text', x:1422, y:139, silent:true, style:{text:'-', font:'44px '+SERIF, fill:'#ff0000', align:'left', verticalAlign:'middle'}});

// caption
graphics.push({type:'text', x:51, y:776, silent:true,
  style:{text:'Comparison of NA61 data to some GEANT4 models', font:'47px "Liberation Sans",Arial,sans-serif', fill:'#000', align:'left', verticalAlign:'middle'}});
// small stray dot at the top-right of the legend area
graphics.push({type:'circle', x:1884, y:675, silent:true, shape:{cx:0, cy:0, r:1.3}, style:{fill:'#333'}});

// legend: one block per entry so that the rows sit where the reference puts them
const legendRowCenter = [692, 743, 783, 823, 864];
const legendNames = ['Data'].concat(modelNames);
const legends = legendNames.map((nm, k) => ({
  data: k === 0
    ? [{name:'Data', icon:'path://M0,12 L50,12 L50,14 L0,14 Z M24,0 L26,0 L26,26 L24,26 Z M21,13 L22.2,10.2 L25,9 L27.8,10.2 L29,13 L27.8,15.8 L25,17 L22.2,15.8 Z', itemStyle:{color:'#ff0000'}}]
    : [nm],
  orient:'vertical', left:1442, top:legendRowCenter[k]-26, itemWidth:50, itemHeight: k===0 ? 26 : 14,
  itemGap:0, selectedMode:false, padding:0,
  itemStyle: k===0 ? undefined : {opacity:0},
  textStyle:{fontFamily:SERIF, fontSize:43, color:'#000'}
}));

const chart = echarts.init(document.getElementById('c'), null, {renderer:'svg', width:1905, height:883});
chart.setOption({
  animation:false,
  backgroundColor:'#ffffff',
  textStyle:{fontFamily:SERIF},
  grid:grids, xAxis:xAxes, yAxis:yAxes, series:series,
  legend:legends,
  graphic:graphics
});
</script></body></html>
